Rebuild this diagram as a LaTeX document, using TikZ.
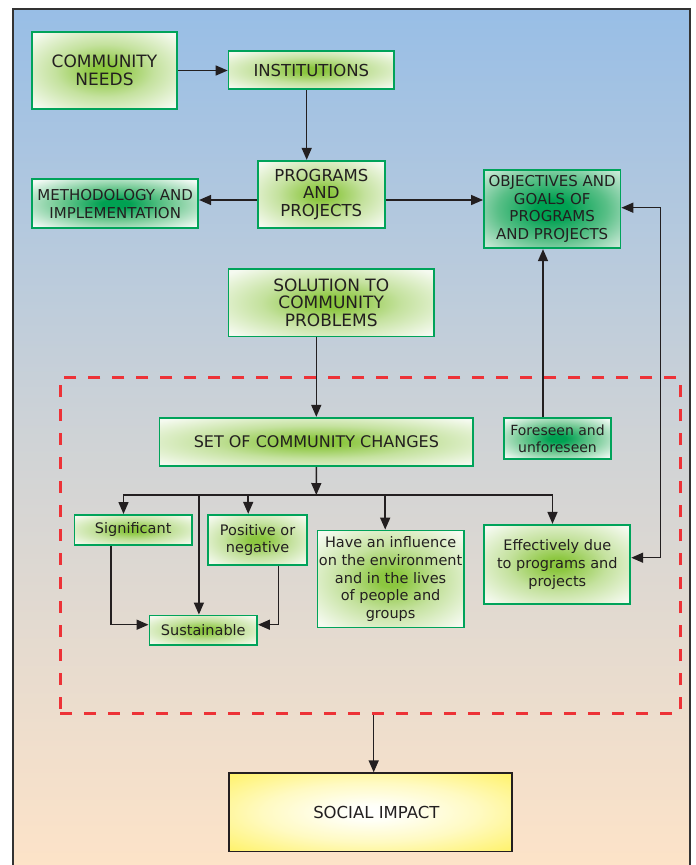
\documentclass[tikz,border=0pt]{standalone}
\usepackage{fontspec}
\setmainfont{DejaVu Sans}
\usetikzlibrary{arrows.meta}
\definecolor{bgtop}{RGB}{152,190,230}
\definecolor{bgmid}{RGB}{207,211,214}
\definecolor{bgbot}{RGB}{253,227,200}
\definecolor{framec}{RGB}{51,51,51}
\definecolor{boxgreen}{RGB}{0,163,90}
\definecolor{linec}{RGB}{35,31,32}
\definecolor{dashred}{RGB}{237,50,55}
\pgfdeclareradialshading{glowL}{\pgfpoint{0bp}{0bp}}{rgb(0bp)=(0.55,0.78,0.25); rgb(4bp)=(0.55,0.78,0.25); rgb(17bp)=(0.77,0.885,0.62); rgb(33bp)=(0.96,0.98,0.94); rgb(60bp)=(0.96,0.98,0.95)}
\pgfdeclareradialshading{glowD}{\pgfpoint{0bp}{0bp}}{rgb(0bp)=(0.0,0.63,0.32); rgb(4bp)=(0.0,0.63,0.32); rgb(17bp)=(0.45,0.79,0.58); rgb(33bp)=(0.95,0.98,0.96); rgb(60bp)=(0.96,0.98,0.96)}
\pgfdeclareradialshading{glowO}{\pgfpoint{0bp}{0bp}}{rgb(0bp)=(0.0,0.63,0.32); rgb(6bp)=(0.0,0.63,0.32); rgb(20bp)=(0.35,0.75,0.53); rgb(36bp)=(0.86,0.94,0.89); rgb(60bp)=(0.88,0.95,0.90)}
\pgfdeclareradialshading{glowY}{\pgfpoint{0bp}{0bp}}{rgb(0bp)=(1,1,1); rgb(5bp)=(1,1,0.97); rgb(19bp)=(1,0.98,0.76); rgb(35bp)=(1,0.95,0.42); rgb(60bp)=(1,0.95,0.40)}
\tikzset{
  gbox/.style={draw=boxgreen, line width=1.8pt, shade, shading=glowL,
    align=center, inner sep=0pt, text=linec, font=\fontsize{16.5}{17.8}\selectfont},
  dgbox/.style={gbox, shading=glowD},
  smalltxt/.style={font=\fontsize{14.5}{17.7}\selectfont},
  midtxt/.style={font=\fontsize{15}{17.8}\selectfont},
  arr/.style={draw=linec, line width=1.5pt, -{Triangle[length=12pt,width=10pt]}},
  arrtwo/.style={draw=linec, line width=1.5pt, {Triangle[length=12pt,width=10pt]}-{Triangle[length=12pt,width=10pt]}},
  dbox/.style={draw=dashred, line width=2.8pt, dash pattern=on 12pt off 12pt, inner sep=0pt},
}
\begin{document}
\begin{tikzpicture}[x=1pt,y=-1pt]
\useasboundingbox (0,0) rectangle (696,865);
\fill[white] (0,0) rectangle (696,865);
\shade[top color=bgtop, bottom color=bgbot, middle color=bgmid] (12.7,9) rectangle (690.3,866);
\draw[framec, line width=2pt] (12.7,870) -- (12.7,9) -- (690.3,9) -- (690.3,870);

% dashed region
\node[dbox, minimum width=620pt, minimum height=336pt] (region) at (370.3,545.3) {};

% boxes
\node[gbox, font=\fontsize{17}{17.8}\selectfont, minimum width=145.5pt, minimum height=77.5pt] (cn) at (104.5,70.5) {COMMUNITY\\NEEDS};
\node[gbox, minimum width=165.5pt, minimum height=38pt] (inst) at (311.3,70.2) {INSTITUTIONS};
\node[gbox, minimum width=127pt, minimum height=67.5pt] (prog) at (321.3,194.5) {PROGRAMS\\AND\\PROJECTS};
\node[dgbox, midtxt, minimum width=166pt, minimum height=49pt] (meth) at (115.2,203.7) {METHODOLOGY AND\\IMPLEMENTATION};
\node[dgbox, midtxt, shading=glowO, minimum width=136.5pt, minimum height=78.5pt] (obj) at (552.2,209) {OBJECTIVES AND\\GOALS OF\\PROGRAMS\\AND PROJECTS};
\node[gbox, font=\fontsize{17}{17.8}\selectfont, minimum width=205.5pt, minimum height=67.5pt] (sol) at (331.2,302.8) {SOLUTION TO\\COMMUNITY\\PROBLEMS};
\node[gbox, font=\fontsize{16}{17.8}\selectfont, minimum width=313.8pt, minimum height=48.5pt] (set) at (316.35,442) {SET OF COMMUNITY CHANGES};
\node[dgbox, font=\fontsize{14}{17}\selectfont, minimum width=107.5pt, minimum height=41.5pt] (fore) at (557.5,438.5) {Foreseen and\\unforeseen};
\node[gbox, smalltxt, minimum width=117.5pt, minimum height=30pt] (sig) at (133.2,529.9) {Significant};
\node[gbox, smalltxt, minimum width=99pt, minimum height=50.5pt] (pos) at (257.6,540) {Positive or\\negative};
\node[gbox, smalltxt, minimum width=146.3pt, minimum height=97pt] (infl) at (390.6,579) {Have an influence\\on the environment\\and in the lives\\of people and\\groups};
\node[gbox, smalltxt, minimum width=146pt, minimum height=79pt] (eff) at (557.3,564.3) {Effectively due\\to programs and\\projects};
\node[gbox, smalltxt, minimum width=107.6pt, minimum height=29.5pt] (sust) at (203.25,630.2) {Sustainable};
\node[draw=linec, line width=1.5pt, shade, shading=glowY, text=linec, inner sep=0pt,
  font=\fontsize{16.5}{17.8}\selectfont, minimum width=283.2pt, minimum height=78.2pt] (soc) at (370.35,812.2) {\hspace*{12pt}SOCIAL IMPACT};

% helper coordinates
\coordinate (bC) at (316.3,495);
\coordinate (bL) at (123.5,495);
\coordinate (bS) at (198.9,495);
\coordinate (bP) at (248.2,495);
\coordinate (bI) at (385.2,495);
\coordinate (bR) at (552.5,495);
\coordinate (sL) at (110.8,624.7);
\coordinate (sR) at (278.5,624.7);
\coordinate (r1) at (660.7,207.7);
\coordinate (r2) at (660.7,557.7);
\coordinate (fx) at (543,300);

% connectors
\draw[arr] (cn.east) -- (cn.east -| inst.west);
\draw[arr] ([xshift=-4.6pt]inst.south) -- ([xshift=-4.6pt]inst.south |- prog.north);
\draw[arr] ([yshift=-5.5pt]prog.west) -- ([yshift=-5.5pt]prog.west -| meth.east);
\draw[arr] ([yshift=-5.5pt]prog.east) -- ([yshift=-5.5pt]prog.east -| obj.west);
\draw[arr] ([xshift=-14.9pt]sol.south) -- ([xshift=-14.9pt]sol.south |- set.north);
\draw[arr] (set.south) -- (bC);
\draw[arr] (bR) -- (bL) -- (bL |- sig.north);
\draw[arr] (bL) -- (bR) -- (bR |- eff.north);
\draw[arr] (bS) -- (bS |- sust.north);
\draw[arr] (bP) -- (bP |- pos.north);
\draw[arr] (bI) -- (bI |- infl.north);
\draw[arr] (sL |- sig.south) -- (sL) -- (sL -| sust.west);
\draw[arr] (sR |- pos.south) -- (sR) -- (sR -| sust.east);
\draw[arr] (fx |- fore.north) -- (fx |- obj.south);
\draw[arrtwo] (r1 -| obj.east) -- (r1) -- (r2) -- (r2 -| eff.east);
\draw[arr] ([xshift=3.4pt]region.south) -- ([xshift=3.4pt]region.south |- soc.north);
\end{tikzpicture}
\end{document}
